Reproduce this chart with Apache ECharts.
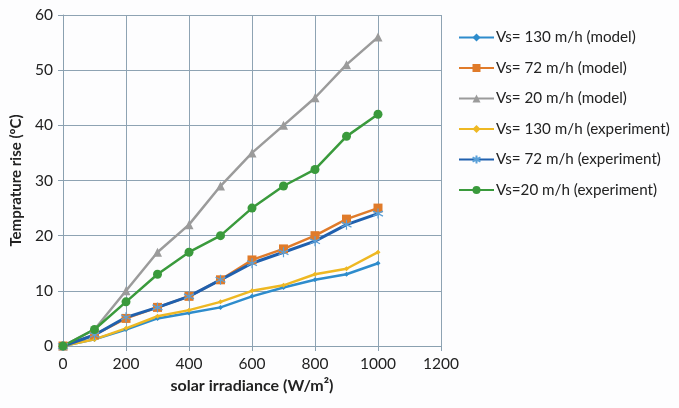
<!DOCTYPE html>
<html><head><meta charset="utf-8">
<script src="https://cdn.jsdelivr.net/npm/echarts@6/dist/echarts.min.js"></script>
<style>html,body{margin:0;padding:0;background:#fdfdfe;}#c{width:679px;height:408px;}</style>
</head><body><div id="c"></div>
<script>
const irradiance = [0,100,200,300,400,500,600,700,800,900,1000];
const model130 = [0,1.2,3,5,6,7,9,10.6,12,13,15];
const model72  = [0,2,5,7,9,12,15.6,17.6,20,23,25];
const model20  = [0,3,10,17,22,29,35,40,45,51,56];
const exp130   = [0,1.2,3.2,5.4,6.5,8,10,11,13,14,17];
const exp72    = [0,2,5.2,7,9,12,15,17,19,22,24];
const exp20    = [0,3,8,13,17,20,25,29,32,38,42];
const names = ['Vs= 130 m/h (model)','Vs= 72 m/h (model)','Vs= 20 m/h (model)','Vs= 130 m/h (experiment)','Vs= 72 m/h (experiment)','Vs=20 m/h (experiment)'];
const values = [model130, model72, model20, exp130, exp72, exp20];
const colors = ['#2e8ccc','#e07b2a','#9b9b9b','#eeb823','#2060ae','#3a9a3c'];
const symbols = ['diamond','rect','triangle','diamond','path://M0,-10L0,10M-9,-5L9,5M-9,5L9,-5','circle'];
const sizes = [5,9,9,5,10,9];
const font = 'Lato, "Open Sans", sans-serif';
const chart = echarts.init(document.getElementById('c'));
const series = values.map((v,i)=>({
  name: names[i], type:'line', data: irradiance.map((x,j)=>[x,v[j]]),
  symbol: symbols[i], symbolSize: sizes[i], showAllSymbol:true,
  lineStyle:{color:colors[i], width: (i===4?3:2.5)},
  itemStyle: i===4 ? {color:'rgba(0,0,0,0)', borderColor:'#5aa0d8', borderWidth:1.2} : {color:colors[i]},
  emphasis:{disabled:true}, animation:false
}));
chart.setOption({
  backgroundColor:'#fdfdfe',
  animation:false,
  grid:{left:63,right:238,top:15,bottom:62},
  legend:{orient:'vertical', left:453, top:25, itemGap:15.5, itemWidth:35, itemHeight:10,
    textStyle:{fontFamily:font, fontSize:15.2, color:'#222', padding:[0,0,0,-3]},
    data: names},
  xAxis:{type:'value', min:0, max:1200, interval:200,
    name:'solar irradiance (W/m²)', nameLocation:'middle', nameGap:32,
    nameTextStyle:{fontFamily:font, fontSize:16, fontWeight:'bold', color:'#222'},
    axisLine:{show:true, lineStyle:{color:'#8aa0b0'}},
    axisTick:{show:true, length:5, lineStyle:{color:'#8aa0b0'}},
    axisLabel:{fontFamily:font, fontSize:15.5, color:'#222', margin:10, formatter:v=>String(v)},
    splitLine:{show:true, lineStyle:{color:'#8ea3b3', width:1}}},
  yAxis:{type:'value', min:0, max:60, interval:10,
    name:'Temprature rise (ºC)', nameLocation:'middle', nameGap:39, nameRotate:90,
    nameTextStyle:{fontFamily:font, fontSize:15, fontWeight:'bold', color:'#222'},
    axisLine:{show:true, lineStyle:{color:'#8aa0b0'}},
    axisTick:{show:true, length:5, lineStyle:{color:'#8aa0b0'}},
    axisLabel:{fontFamily:font, fontSize:15.5, color:'#222', margin:10},
    splitLine:{show:true, lineStyle:{color:'#8ea3b3', width:1}}},
  series: series
});
</script></body></html>
